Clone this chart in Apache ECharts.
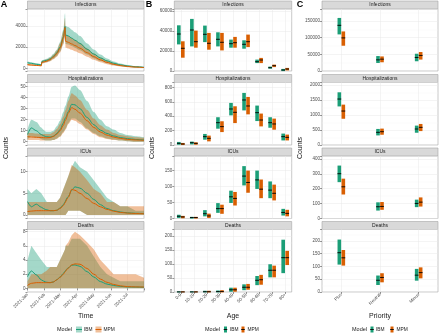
<!DOCTYPE html>
<html>
<head>
<meta charset="utf-8">
<script src="https://cdn.jsdelivr.net/npm/echarts@6/dist/echarts.min.js"></script>
<style>
  html, body { margin: 0; padding: 0; background: #fff; }
  #chart { width: 440px; height: 334px; }
</style>
</head>
<body>
<div id="chart"></div>
<script>
// ---- panel A : daily counts over time (sampled) ----
const dates = ['2021-01-01','2021-01-08','2021-01-17','2021-01-26','2021-01-27','2021-02-05','2021-02-11','2021-02-17',
  '2021-02-23','2021-03-01','2021-03-07','2021-03-10','2021-03-11','2021-03-16','2021-03-22','2021-03-28','2021-04-06',
  '2021-04-19','2021-05-01','2021-05-13','2021-05-25','2021-06-06','2021-06-18','2021-07-01','2021-07-16','2021-07-31'];

const infIbmMean = [530,470,380,320,640,760,880,1130,1450,2000,2950,3950,3150,3050,2850,2650,2350,1800,1350,980,700,480,330,220,140,90];
const infIbmLo   = [430,380,300,250,520,600,700,900,1160,1600,2350,3100,2300,2250,2100,1950,1700,1300,960,690,480,320,210,130,80,50];
const infIbmHi   = [640,570,470,400,760,900,1060,1370,1760,2450,3650,5200,4000,3900,3650,3400,3050,2350,1780,1300,930,650,460,320,210,140];
const infMpmMean = [350,310,270,240,560,680,820,1060,1380,1900,2850,3850,2550,2450,2300,2150,1900,1480,1100,800,560,380,260,170,110,70];
const infMpmLo   = [270,240,210,190,450,550,660,850,1100,1500,2250,3050,1950,1880,1750,1620,1420,1100,800,570,390,260,170,110,65,40];
const infMpmHi   = [430,380,330,300,680,820,990,1280,1680,2350,3500,4750,3150,3050,2850,2680,2380,1870,1400,1030,740,510,350,240,160,105];

const hospIbmMean = [6.5,12.5,10,6.5,6.4,4.5,4.2,5,7.5,11,17,21,21.8,27.5,34,33.5,30,22,15.5,10.5,7.5,5.2,3.8,2.8,2,1.5];
const hospIbmLo   = [2,5,4,2,2,1,1,1.5,3,5,9,12,12,17,21,21,18,12,8,5,3,2,1,0.5,0,0];
const hospIbmHi   = [11,20,18,13,13,9,9,10,14,19,27,32,33,41,50,51,47,37,27,20,14,11,8,6,5,4];
const hospMpmMean = [4.5,4.3,4,3.8,3.8,3.6,3.8,4.8,6.8,10,15,19,19.8,26,31,29.5,26,19,13,8.8,6,4.2,3,2.1,1.6,1.3];
const hospMpmLo   = [1.5,1.5,1.5,1,1,1,1,1.5,2.5,4.5,8,10.5,11,16,20,19,16,11,7,4,2.5,1.5,1,0.5,0,0];
const hospMpmHi   = [8,8,7.5,7,7,7,7,8.5,11.5,16,23,28,29,37,44,42,38,29,21,15,11,8,6,5,4,3.5];

const icuIbmMean = [3.1,1.9,2.5,1.8,1.8,1.2,1,1,1.1,1.6,2.4,3,3.1,4.3,5.7,6.5,6.2,5,3.6,2.4,1.5,1,0.7,0.5,0.4,0.35];
const icuIbmLo   = [0,0,0,0,0,0,0,0,0,0,0,0,0,1,1,1,1,0,0,0,0,0,0,0,0,0];
const icuIbmHi   = [6,5,6,5,5,3,3,3,3,4,6,7,7,9,11,12.5,11,10,8,6,4,3,2,2,1,1];
const icuMpmMean = [0.8,0.9,1,1,1,1,1,1,1.1,1.5,2.2,2.8,2.9,4.1,5.9,5.7,5,3.8,2.7,1.9,1.3,0.9,0.6,0.45,0.35,0.3];
const icuMpmLo   = [0,0,0,0,0,0,0,0,0,0,0,0,0,1,1,1,1,0,0,0,0,0,0,0,0,0];
const icuMpmHi   = [3,3,3,3,3,3,3,3,3,4,6,7,7,9,11.5,11,10,8,6,5,3,3,2,2,2,2];

const deathIbmMean = [1.65,2.45,1.9,1.2,1.2,0.85,0.8,0.9,1.2,1.6,2.1,2.4,2.45,2.9,3.25,3.3,3.1,2.35,1.6,0.95,0.6,0.4,0.28,0.2,0.18,0.15];
const deathIbmLo   = [0,0,0,0,0,0,0,0,0,0,0,0,0,0,0,0,0,0,0,0,0,0,0,0,0,0];
const deathIbmHi   = [4,6,5,4,4,3,3,3,3,4,5,5.5,6,6,7,7,7,6,4.5,3,2,1.5,1,1,1,1];
const deathMpmMean = [0.4,0.7,0.8,0.8,0.8,0.8,0.8,0.9,1.2,1.55,2,2.3,2.35,2.85,3.3,3.45,3.4,2.8,2,1.3,0.85,0.55,0.35,0.24,0.2,0.18];
const deathMpmLo   = [0,0,0,0,0,0,0,0,0,0,0,0,0,0,0,0,0,0,0,0,0,0,0,0,0,0];
const deathMpmHi   = [1,2,2,2,2,2.5,3,3,3,4,5,5.5,6,6.5,7.5,8,7.5,6.5,5.5,4,3,2,2,2,2,1.5];

// ---- panel B : totals by age, [lo, median, hi] ----
const ageGroups = ['0-9','10-19','20-29','30-39','40-49','50-59','60-69','70-79','80+'];
const ageInfIbm = [[27000,37000,45300],[25000,41000,51700],[29300,36700,45000],[25000,31700,38300],[23700,27300,31000],[22700,26700,30300],[8300,9300,11000],[2700,3300,4000],[300,1000,1700]];
const ageInfMpm = [[13700,22700,29300],[23700,29300,40000],[21700,27700,37700],[21000,28700,37700],[23700,28300,33700],[24300,29300,36000],[8300,11000,12700],[4300,5300,6000],[1000,2000,2700]];
const ageHospIbm = [[9,23,37],[14,32,42],[79,116,148],[232,310,380],[417,500,579],[486,625,718],[338,449,542],[245,310,380],[69,116,153]];
const ageHospMpm = [[5,14,23],[9,23,32],[56,93,125],[185,255,324],[310,454,532],[431,542,662],[264,347,431],[218,292,361],[69,106,139]];
const ageIcuIbm = [[3,7,10.5],[1,3,4],[8,15,25],[19,31,47],[50,68,86],[105,133,163],[94,121,149],[65,89,115],[10.5,19,29]];
const ageIcuMpm = [[2,5,7],[1,3,4],[3,8,14],[16,31,42],[42,63,82],[82,113,149],[65,92,121],[58,79,105],[8,16,26]];
const ageDeathIbm = [[0,0.3,1],[0,0.3,1],[0,1,3],[0,1.5,4],[2.4,8,14],[8,17,26],[26,42,56],[54,78,98],[69,123,186]];
const ageDeathMpm = [[0,0.3,1],[0,0.3,1],[0,1,3],[0,2,5],[2.4,8,14],[9.6,17,27.5],[27.5,44,60],[54,78,93],[98,123,146]];

// ---- panel C : totals by priority, [lo, median, hi] ----
const priorities = ['Plus','Neutral','Minus'];
const priInfIbm = [[111000,137000,158000],[25300,33400,43600],[30400,40500,50600]];
const priInfMpm = [[77000,99300,117500],[27400,35500,42500],[35500,46600,55700]];
const priHospIbm = [[1299,1532,1743],[333,422,522],[422,533,633]];
const priHospMpm = [[888,1132,1332],[355,444,533],[477,588,688]];
const priIcuIbm = [[247,301,353],[56,79,106],[79,101,124]];
const priIcuMpm = [[164,213,265],[61,81,108],[83,110,139]];
const priDeathIbm = [[109,154,204],[29,46,63],[46,66,89]];
const priDeathMpm = [[105,134,163],[39.5,57,72],[55,76,95]];

const outcomes = ['Infections','Hospitalizations','ICUs','Deaths'];

// ---- layout ----
const GREEN = '#1b9e77', ORANGE = '#d95f02';
const FONT = 'Liberation Sans';
const DAY = 86400000;
const colLeft = [27.5, 174.3, 322];
const colWidth = [116.5, 117.4, 116];
const rowTop = [9, 82.5, 156, 229.5];
const rowBottom = [71, 145, 218.5, 292];
// [min, max, step] per column / row
const yRange = [
  [[-255, 5600, 2000], [-3, 53.8, 10], [-0.8, 13.6, 5], [-0.52, 8.3, 2]],
  [[0, 62000, 20000], [0, 868, 200], [0, 196, 50], [0, 224, 50]],
  [[0, 186000, 50000], [0, 2083, 500], [0, 420, 100], [0, 245, 50]]
];
const monthNames = ['Jan','Feb','Mar','Apr','May','Jun','Jul','Aug','Sep','Oct','Nov','Dec'];

const tickStyle = { show: true, length: 2, lineStyle: { color: '#333', width: 0.5 } };
const gridLine = { show: true, lineStyle: { color: '#e8e8e8', width: 0.5 } };
const labelBase = { fontSize: 4.5, color: '#4d4d4d', fontFamily: FONT, margin: 2 };

const grids = [], xAxes = [], yAxes = [], series = [];

for (let c = 0; c < 3; c++) {
  for (let r = 0; r < 4; r++) {
    const g = c * 4 + r;
    const bottomRow = r === 3;
    grids.push({
      left: colLeft[c], top: rowTop[r], width: colWidth[c], height: rowBottom[r] - rowTop[r],
      show: true, borderColor: '#a6a6a6', borderWidth: 0.6, backgroundColor: '#fff',
      containLabel: false, outerBoundsMode: 'none'
    });
    if (c === 0) {
      xAxes.push({
        type: 'time', gridIndex: g,
        min: new Date(2021, 0, 1).getTime(), max: new Date(2021, 6, 31).getTime(),
        splitNumber: 7, minInterval: 28 * DAY, maxInterval: 31 * DAY,
        axisLine: { show: false },
        axisTick: Object.assign({}, tickStyle, { show: bottomRow }),
        axisLabel: Object.assign({}, labelBase, {
          show: bottomRow, rotate: 45, hideOverlap: false, showMinLabel: true, showMaxLabel: true,
          formatter: function (v) {
            const d = new Date(v);
            return d.getDate() === 1 ? d.getFullYear() + '-' + monthNames[d.getMonth()] : '';
          }
        }),
        splitLine: gridLine
      });
    } else {
      xAxes.push({
        type: 'category', gridIndex: g, data: c === 1 ? ageGroups : priorities, boundaryGap: true,
        axisLine: { show: false },
        axisTick: Object.assign({}, tickStyle, { show: bottomRow, alignWithLabel: true, interval: 0 }),
        axisLabel: Object.assign({}, labelBase, { show: bottomRow, rotate: 45, interval: 0 }),
        splitLine: Object.assign({}, gridLine, { alignWithLabel: true, interval: 0 })
      });
    }
    const yr = yRange[c][r];
    const step = yr[2];
    yAxes.push({
      type: 'value', gridIndex: g, min: yr[0], max: yr[1],
      minInterval: step, maxInterval: step, splitNumber: 3,
      axisLine: { show: false },
      axisTick: tickStyle,
      axisLabel: Object.assign({}, labelBase, {
        showMinLabel: true, showMaxLabel: true,
        formatter: function (v) {
          const k = v / step;
          return Math.abs(k - Math.round(k)) < 1e-6 ? String(Math.round(k) * step) : '';
        }
      }),
      splitLine: gridLine,
      minorTick: { show: false, splitNumber: 2 },
      minorSplitLine: { show: true, lineStyle: { color: '#f2f2f2', width: 0.4 } }
    });
  }
}

// ---- panel A series: ribbons + mean lines ----
function ribbon(g, lo, hi, color, name, smooth) {
  const common = {
    type: 'line', xAxisIndex: g, yAxisIndex: g, stack: name, symbol: 'none',
    lineStyle: { width: 0, opacity: 0 }, silent: true, z: 1,
    smooth: smooth, smoothMonotone: 'x'
  };
  return [
    Object.assign({}, common, { data: dates.map((d, i) => [d, lo[i]]) }),
    Object.assign({}, common, {
      data: dates.map((d, i) => [d, hi[i] - lo[i]]),
      areaStyle: { color: color, opacity: 0.4 }
    })
  ];
}
function meanLine(g, vals, color) {
  return {
    type: 'line', xAxisIndex: g, yAxisIndex: g, symbol: 'none', z: 3,
    smooth: 0.3, smoothMonotone: 'x',
    data: dates.map((d, i) => [d, vals[i]]),
    lineStyle: { color: color, width: 1 }
  };
}
const aPanels = [
  [infIbmLo, infIbmMean, infIbmHi, infMpmLo, infMpmMean, infMpmHi, 0.3],
  [hospIbmLo, hospIbmMean, hospIbmHi, hospMpmLo, hospMpmMean, hospMpmHi, 0.3],
  [icuIbmLo, icuIbmMean, icuIbmHi, icuMpmLo, icuMpmMean, icuMpmHi, false],
  [deathIbmLo, deathIbmMean, deathIbmHi, deathMpmLo, deathMpmMean, deathMpmHi, false]
];
aPanels.forEach(function (p, r) {
  series.push(...ribbon(r, p[0], p[2], GREEN, 'ibm' + r, p[6]));
  series.push(...ribbon(r, p[3], p[5], ORANGE, 'mpm' + r, p[6]));
  series.push(meanLine(r, p[1], GREEN));
  series.push(meanLine(r, p[4], ORANGE));
});

// ---- panels B and C: crossbars ----
function crossbar(g, rows, color, shift) {
  return {
    type: 'custom', xAxisIndex: g, yAxisIndex: g, z: 3,
    data: rows.map((d, i) => [i, d[0], d[1], d[2]]),
    encode: { x: 0, y: [1, 2, 3] },
    renderItem: function (params, api) {
      const i = api.value(0);
      const lo = api.coord([i, api.value(1)]);
      const md = api.coord([i, api.value(2)]);
      const hi = api.coord([i, api.value(3)]);
      const cx = lo[0] + shift;
      return {
        type: 'group',
        children: [
          { type: 'rect', shape: { x: cx - 1.8, y: hi[1] - 0.4, width: 3.6, height: Math.max(lo[1] - hi[1], 0) + 0.8 },
            style: { fill: color } },
          { type: 'line', shape: { x1: cx - 1.9, y1: md[1], x2: cx + 1.9, y2: md[1] },
            style: { stroke: '#000', lineWidth: 0.9 } }
        ]
      };
    }
  };
}
const bPanels = [[ageInfIbm, ageInfMpm], [ageHospIbm, ageHospMpm], [ageIcuIbm, ageIcuMpm], [ageDeathIbm, ageDeathMpm]];
const cPanels = [[priInfIbm, priInfMpm], [priHospIbm, priHospMpm], [priIcuIbm, priIcuMpm], [priDeathIbm, priDeathMpm]];
bPanels.forEach(function (p, r) {
  series.push(crossbar(4 + r, p[0], GREEN, -2));
  series.push(crossbar(4 + r, p[1], ORANGE, 2));
});
cPanels.forEach(function (p, r) {
  series.push(crossbar(8 + r, p[0], GREEN, -2));
  series.push(crossbar(8 + r, p[1], ORANGE, 2));
});

// ---- strips, titles, legends ----
function txt(x, y, s, size, extra) {
  return Object.assign({
    type: 'text', x: x, y: y,
    style: Object.assign({
      text: s, fontSize: size, fontFamily: FONT, fill: '#1a1a1a',
      textAlign: 'center', textVerticalAlign: 'middle', align: 'center', verticalAlign: 'middle'
    }, extra || {})
  });
}
const graphics = [];
for (let c = 0; c < 3; c++) {
  for (let r = 0; r < 4; r++) {
    graphics.push({
      type: 'rect',
      shape: { x: colLeft[c], y: rowTop[r] - 8, width: colWidth[c], height: 8 },
      style: { fill: '#d9d9d9', stroke: '#a6a6a6', lineWidth: 0.6 }
    });
    graphics.push(txt(colLeft[c] + colWidth[c] / 2, rowTop[r] - 4, outcomes[r], 5));
  }
  graphics.push(txt(colLeft[c] + colWidth[c] / 2, 316, ['Time', 'Age', 'Priority'][c], 7));
  const countsX = [6, 152.5, 300.5][c];
  const ct = txt(countsX, 148, 'Counts', 7);
  ct.rotation = Math.PI / 2;
  graphics.push(ct);
}
graphics.push(txt(4, 4.5, 'A', 9, { fontWeight: 'bold', fill: '#000' }));
graphics.push(txt(149, 4.5, 'B', 9, { fontWeight: 'bold', fill: '#000' }));
graphics.push(txt(300, 4.5, 'C', 9, { fontWeight: 'bold', fill: '#000' }));

const LY = 329.5;
const leftText = { textAlign: 'left', align: 'left' };
// legend A: ribbon + line keys
graphics.push(txt(57, LY, 'Model', 5.5, leftText));
[[76, 'IBM', GREEN, 84], [95.5, 'MPM', ORANGE, 103.5]].forEach(function (k) {
  graphics.push({ type: 'rect', shape: { x: k[0], y: LY - 3, width: 6, height: 6 }, style: { fill: k[2], opacity: 0.4 } });
  graphics.push({ type: 'line', shape: { x1: k[0], y1: LY, x2: k[0] + 6, y2: LY }, style: { stroke: k[2], lineWidth: 1 } });
  graphics.push(txt(k[3], LY, k[1], 4.8, leftText));
});
// legends B and C: crossbar keys
[[205, 224, 230, 241.5, 247.5], [352, 370.5, 376, 390.5, 396.5]].forEach(function (L) {
  graphics.push(txt(L[0], LY, 'Model', 5.5, leftText));
  [[L[1], GREEN, 'IBM', L[2]], [L[3], ORANGE, 'MPM', L[4]]].forEach(function (k) {
    graphics.push({ type: 'rect', shape: { x: k[0], y: LY - 3, width: 3, height: 6 }, style: { fill: k[1] } });
    graphics.push({ type: 'line', shape: { x1: k[0] - 0.3, y1: LY, x2: k[0] + 3.3, y2: LY }, style: { stroke: '#000', lineWidth: 0.9 } });
    graphics.push(txt(k[3], LY, k[2], 4.8, leftText));
  });
});

const chart = echarts.init(document.getElementById('chart'), null, { renderer: 'canvas' });
chart.setOption({
  animation: false,
  backgroundColor: '#fff',
  grid: grids,
  xAxis: xAxes,
  yAxis: yAxes,
  series: series,
  graphic: graphics
});
</script>
</body>
</html>
